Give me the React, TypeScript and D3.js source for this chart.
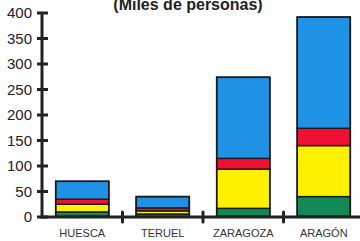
import * as d3 from 'd3';

const categories = ['HUESCA', 'TERUEL', 'ZARAGOZA', 'ARAGÓN'];
const baseValues = [2, 1, 2, 2];
const greenValues = [8, 5, 15, 38];
const yellowValues = [15, 6, 77, 100];
const redValues = [10, 6, 21, 34];
const blueValues = [35, 22, 159, 218];
const yTicks = [0, 50, 100, 150, 200, 250, 300, 350, 400];

const seriesColors = ['#f4e81c', '#128a55', '#fff100', '#ee1133', '#1f92e6'];

export default function App() {
    const width = 360, height = 241;
    const margin = {top: 13, left: 42, bottom: 24};

    const x = d3.scaleBand<string>()
        .domain(categories)
        .range([margin.left, 364])
        .paddingInner(0.34)
        .paddingOuter(0.17);

    const y = d3.scaleLinear()
        .domain([0, 400])
        .range([height - margin.bottom, margin.top]);

    const rows = categories.map((c, i) => ({
        cat: c,
        s0: baseValues[i], s1: greenValues[i], s2: yellowValues[i], s3: redValues[i], s4: blueValues[i]
    }));
    const stack = d3.stack<any>().keys(['s0', 's1', 's2', 's3', 's4'])(rows);
    const totals = categories.map((c, i) => d3.sum(stack, l => l[i][1] - l[i][0]));

    const step = x.step();
    const seps = categories.slice(1).map(c => (x(c) as number) - (step - x.bandwidth()) / 2);

    return (
        <svg width={width} height={height} style={{position: 'absolute', left: 0, top: 0, background: '#fff'}}>
            <text x={188} y={10} textAnchor="middle" fontFamily="Liberation Sans, Arial" fontWeight="bold" fontSize={16} fill="#222">(Miles de personas)</text>

            {stack.map((layer, li) => layer.map((d, i) => (
                <rect key={li + '-' + i}
                    x={x(categories[i])} y={y(d[1])}
                    width={x.bandwidth()} height={y(d[0]) - y(d[1])}
                    fill={seriesColors[li]} stroke="#1a1a1a" strokeWidth={li === 0 ? 0 : 1.4} />
            )))}
            {categories.map((c, i) => (
                <rect key={'o' + c} x={x(c)} y={y(totals[i])}
                    width={x.bandwidth()} height={y(0) - y(totals[i])}
                    fill="none" stroke="#1a1a1a" strokeWidth={1.6} />
            ))}

            <line x1={margin.left} x2={margin.left} y1={y(400) - 1} y2={y(0) + 1.5} stroke="#222" strokeWidth={3} />
            <line x1={margin.left} x2={width} y1={y(0)} y2={y(0)} stroke="#222" strokeWidth={3} />
            {yTicks.map(t => (
                <g key={t}>
                    <line x1={margin.left - 5} x2={margin.left + 6} y1={y(t)} y2={y(t)} stroke="#222" strokeWidth={3} />
                    <text x={32} y={y(t) + 5} textAnchor="end" fontFamily="Liberation Sans, Arial" fontSize={15} fill="#222">{t}</text>
                </g>
            ))}
            {seps.map((s, i) => (
                <line key={i} x1={s} x2={s} y1={y(0) - 5} y2={y(0) + 5} stroke="#222" strokeWidth={3} strokeLinecap="round" />
            ))}
            {categories.map(c => (
                <text key={c} x={(x(c) as number) + x.bandwidth() / 2} y={237} textAnchor="middle"
                    fontFamily="Liberation Sans, Arial" fontSize={11} fill="#333">{c}</text>
            ))}
        </svg>
    );
}
